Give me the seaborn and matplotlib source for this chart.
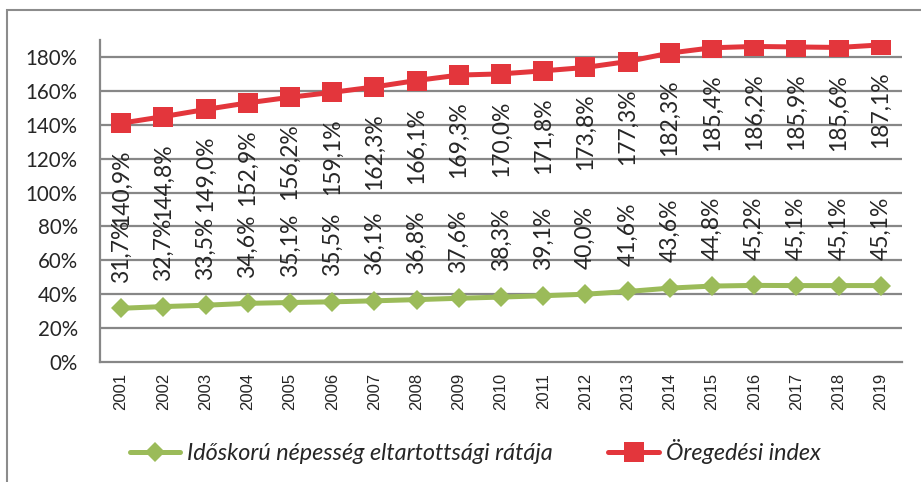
import matplotlib
matplotlib.use("Agg")
import matplotlib.pyplot as plt
from matplotlib.patches import Rectangle
from matplotlib.ticker import FixedLocator, FuncFormatter
import numpy as np
import pandas as pd
import seaborn as sns

YEARS = [str(y) for y in range(2001, 2020)]
ELTARTOTTSAGI = [31.7, 32.7, 33.5, 34.6, 35.1, 35.5, 36.1, 36.8, 37.6, 38.3,
                 39.1, 40.0, 41.6, 43.6, 44.8, 45.2, 45.1, 45.1, 45.1]
OREGEDESI = [140.9, 144.8, 149.0, 152.9, 156.2, 159.1, 162.3, 166.1, 169.3, 170.0,
             171.8, 173.8, 177.3, 182.3, 185.4, 186.2, 185.9, 185.6, 187.1]
LABEL_GREEN = "Időskorú népesség eltartottsági rátája"
LABEL_RED = "Öregedési index"
Y_TICKS = [0, 20, 40, 60, 80, 100, 120, 140, 160, 180]

GREEN = "#9BBB59"
RED = "#E3363C"
GRID = "#878787"

sns.set_style("white")
plt.rcParams["font.family"] = ["Lato", "DejaVu Sans"]

df = pd.DataFrame({"year": YEARS, "green": ELTARTOTTSAGI, "red": OREGEDESI})

fig = plt.figure(figsize=(9.21, 4.82), dpi=100)
ax = fig.add_axes([100 / 921, 1 - 362 / 482, 802 / 921, 322 / 482])

sns.lineplot(data=df, x="year", y="green", ax=ax, color=GREEN, linewidth=3.6,
             marker="D", markersize=10.5, markeredgewidth=0, label=LABEL_GREEN, zorder=3)
sns.lineplot(data=df, x="year", y="red", ax=ax, color=RED, linewidth=3.6,
             marker="s", markersize=14, markeredgewidth=0, label=LABEL_RED, zorder=3)

ax.set_xlim(-0.5, len(YEARS) - 0.5)
ax.set_ylim(0, 190)
ax.set_xlabel("")
ax.set_ylabel("")

# gridlines every 20%
for t in Y_TICKS[1:]:
    ax.axhline(t, color=GRID, linewidth=1.6, zorder=1)
ax.yaxis.set_major_locator(FixedLocator(Y_TICKS))
ax.yaxis.set_major_formatter(FuncFormatter(lambda v, p: f"{v:.0f}%"))
ax.tick_params(axis="y", length=5, width=1.3, color=GRID, pad=11, labelsize=14.8)

# category axis, ticks between categories
ax.set_xticks(np.arange(len(YEARS)))
ax.set_xticklabels(YEARS, rotation=90, fontsize=12, family="Liberation Sans")
ax.set_xticks(np.arange(len(YEARS) + 1) - 0.5, minor=True)
ax.tick_params(axis="x", which="major", length=0, pad=8)
ax.tick_params(axis="x", which="minor", length=5, width=1.3, color=GRID)
ax.tick_params(axis="both", direction="out")

for side in ["top", "right"]:
    ax.spines[side].set_visible(False)
for side in ["left", "bottom"]:
    ax.spines[side].set_color(GRID)
    ax.spines[side].set_linewidth(1.6)

# data labels
for i, (g, r) in enumerate(zip(ELTARTOTTSAGI, OREGEDESI)):
    ax.annotate(f"{g:.1f}%".replace(".", ","), (i, g), xytext=(0, 18.5),
                textcoords="offset points", rotation=90, ha="center", va="bottom",
                fontsize=16.5, zorder=4)
    ax.annotate(f"{r:.1f}%".replace(".", ","), (i, r), xytext=(0, -19),
                textcoords="offset points", rotation=90, ha="center", va="top",
                fontsize=16.5, zorder=4)

ax.get_legend().remove()
handles, labels = ax.get_legend_handles_labels()
fig.legend(handles, labels, loc="center", bbox_to_anchor=(475 / 921, 1 - 452 / 482),
           ncol=2, frameon=False, prop={"style": "italic", "size": 16.8},
           handlelength=2.15, handletextpad=0.3, columnspacing=2.4)

# chart border (left/top visible)
fig.patches.append(Rectangle((7 / 921, -0.1), 1.2, 1.1 - 10 / 482,
                             transform=fig.transFigure, fill=False,
                             edgecolor="#8C8C8C", linewidth=1.5))

fig.savefig("out.png", dpi=100)
